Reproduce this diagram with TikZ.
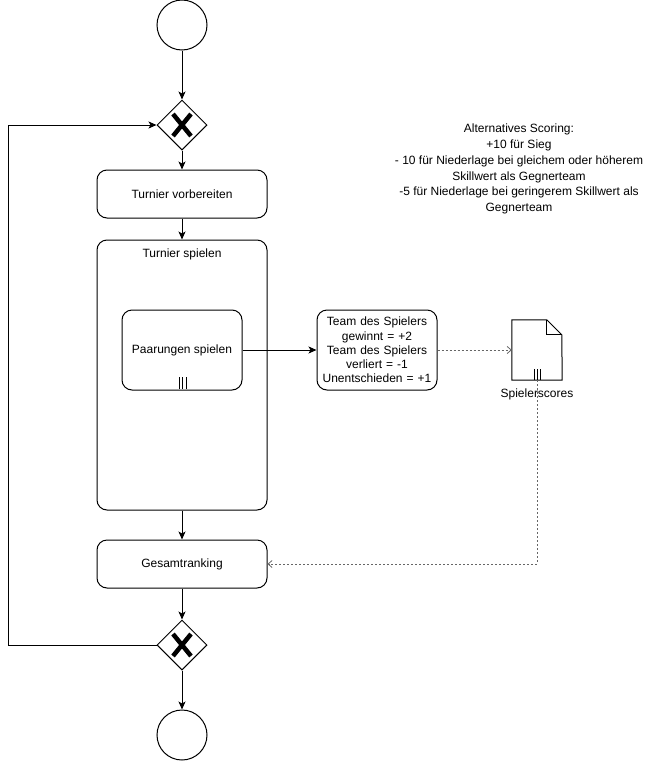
\documentclass[tikz,border=0pt]{standalone}
\usepackage{fontspec}
\setmainfont{Liberation Sans}
\usetikzlibrary{arrows.meta,shapes.geometric,calc}

\begin{document}
\begin{tikzpicture}[x=1pt,y=-1pt,
  every node/.style={font=\fontsize{12}{14.2}\selectfont, inner sep=0pt},
  event/.style={circle, draw, line width=1pt, minimum size=50pt},
  gateway/.style={diamond, draw, line width=1pt, minimum width=50pt, minimum height=50pt, aspect=1},
  task/.style={draw, line width=1pt, rounded corners=10pt, minimum width=170pt, minimum height=48pt},
  subtask/.style={draw, line width=1pt, rounded corners=10pt, minimum width=120pt, minimum height=80pt},
  flow/.style={line width=1pt, -{Stealth[length=8pt,width=7pt,inset=2pt]}},
  msg/.style={line width=0.8pt, draw=black!60, dash pattern=on 2pt off 2pt, -{Straight Barb[length=4pt,width=7pt]}},
  xmark/.style={line width=4.5pt},
  marker/.style={line width=0.9pt}
]
\useasboundingbox (0,0) rectangle (658,761);

% events and gateways
\node[event] (start) at (182,25) {};
\node[gateway] (gwin) at (182,125) {};
\node[gateway] (gwout) at (182,645) {};
\node[event] (stop) at (182,735) {};
\foreach \g in {gwin,gwout} {
  \draw[xmark] ($(\g)+(-9,-11)$) -- ($(\g)+(9,11)$);
  \draw[xmark] ($(\g)+(9,-11)$) -- ($(\g)+(-9,11)$);
}

% tasks
\node[task] (prep) at (182,194) {Turnier vorbereiten};
\node[task, minimum height=270pt] (play) at (182,375) {};
\node (playlabel) at (182,254) {Turnier spielen};
\node[subtask] (pair) at (182,350) {Paarungen spielen};
\draw[marker] (179,377) -- (179,389) (182.5,377) -- (182.5,389) (186,377) -- (186,389);
\node[task] (rank) at (182,564) {Gesamtranking};

% annotation box
\node[draw, line width=1pt, rounded corners=10pt, minimum width=120pt, minimum height=80pt,
      align=center, text width=120pt] (rules) at (377,350)
  {Team des Spielers\\gewinnt = +2\\Team des Spielers\\verliert = -1\\Unentschieden = +1};

% data object
\node[minimum width=50pt, minimum height=60pt] (doc) at (537,350) {};
\draw[line width=1pt] (doc.north west) -- ++(35,0) -- ++(15,15) -- (doc.south east) -- (doc.south west) -- cycle;
\draw[line width=1pt] ($(doc.north west)+(35,0)$) -- ++(0,15) -- ++(15,0);
\draw[marker] (534,369) -- (534,380) (537,369) -- (537,380) (540,369) -- (540,380);
\node (doclabel) at (537,394) {Spielerscores};

% free text
\node[align=center, font=\fontsize{12}{15.8}\selectfont] (alt) at (519,169)
  {Alternatives Scoring:\\+10 für Sieg\\- 10 für Niederlage bei gleichem oder höherem\\Skillwert als Gegnerteam\\-5 für Niederlage bei geringerem Skillwert als\\Gegnerteam};

% sequence flows
\draw[flow] (start) -- (gwin);
\draw[flow] (gwin) -- (prep);
\draw[flow] (prep) -- (play);
\draw[flow] (play) -- (rank);
\draw[flow] (rank) -- (gwout);
\draw[flow] (gwout) -- (stop);
\coordinate (loop) at (8,645);
\draw[flow] (gwout.west) -- (loop) |- (gwin.west);
\draw[flow] (pair.east) -- (rules.west);

% data associations
\draw[msg] (rules.east) -- (doc.west);
\draw[msg] (doc.south) |- (rank.east);
\end{tikzpicture}
\end{document}
